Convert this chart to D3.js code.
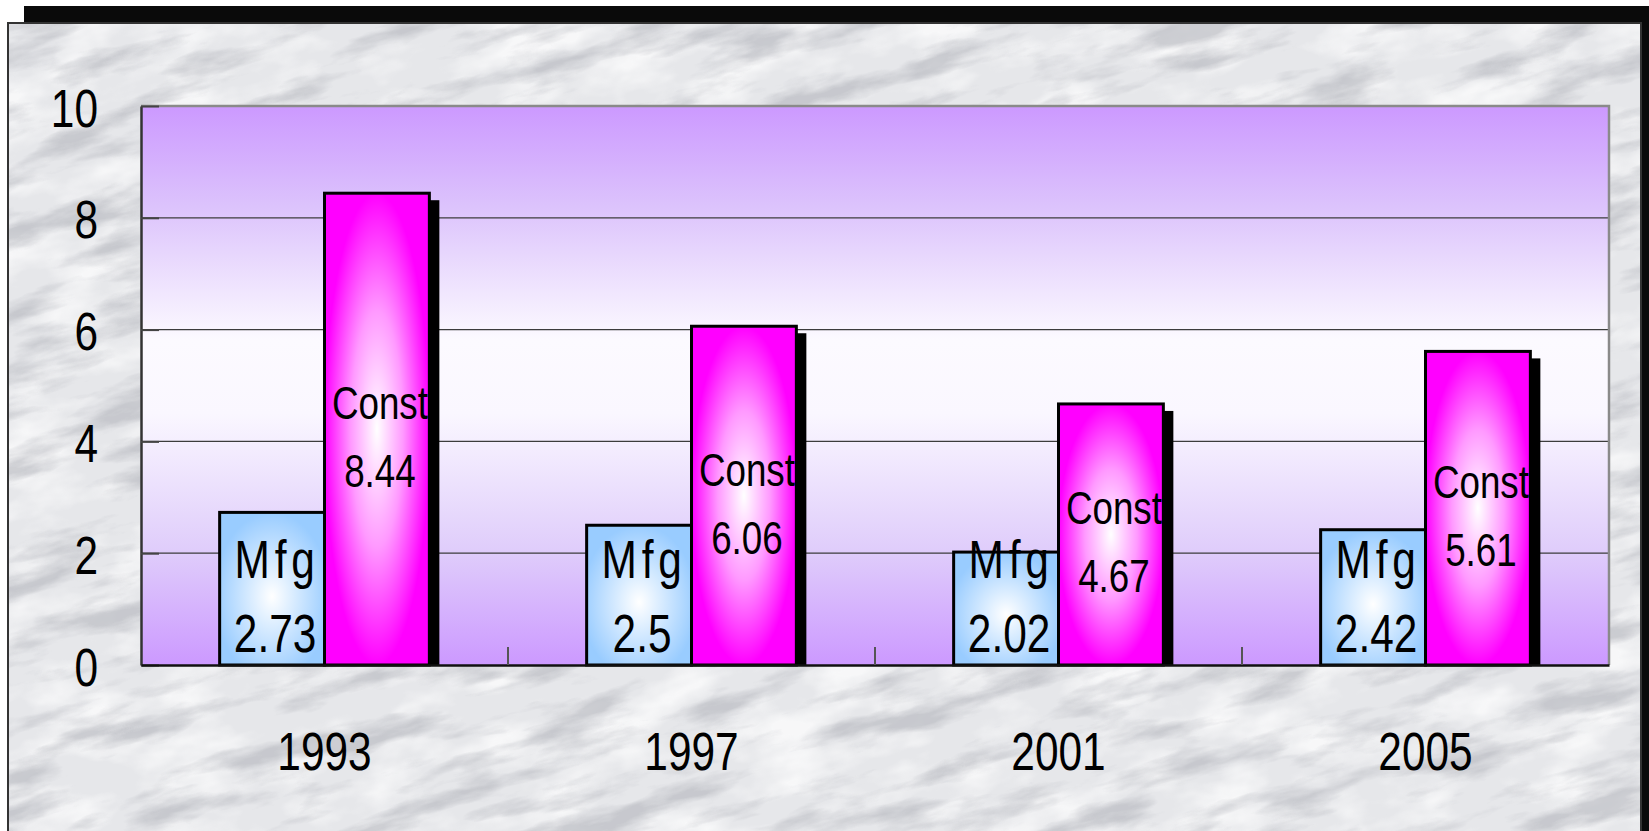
<!DOCTYPE html>
<html>
<head>
<meta charset="utf-8">
<script src="https://cdn.jsdelivr.net/npm/d3@7"></script>
<style>
  body { margin: 0; background: #fff; }
  svg { display: block; }
  text { font-family: "Liberation Sans", Arial, sans-serif; fill: #000; }
</style>
</head>
<body>
<div id="chart"></div>
<script>
// data
var years = ["1993", "1997", "2001", "2005"];
var seriesNames = ["Mfg", "Const"];
var mfgValues = [2.73, 2.5, 2.02, 2.42];
var constValues = [8.44, 6.06, 4.67, 5.61];
var yTicks = [0, 2, 4, 6, 8, 10];

var W = 1649, H = 831;
var plot = {left: 141, top: 106, right: 1609, bottom: 665};

var svg = d3.select("#chart").append("svg")
    .attr("width", W)
    .attr("height", H);

var defs = svg.append("defs");

// marble texture
var f1 = defs.append("filter").attr("id", "marbleDark")
    .attr("x", 0).attr("y", 0).attr("width", 1).attr("height", 1);
f1.append("feTurbulence").attr("type", "fractalNoise")
    .attr("baseFrequency", "0.009 0.035").attr("numOctaves", 5).attr("seed", 11);
f1.append("feColorMatrix").attr("type", "matrix")
    .attr("values", "0 0 0 0 0.45  0 0 0 0 0.46  0 0 0 0 0.5  3.6 0 0 0 -1.75");

var f2 = defs.append("filter").attr("id", "marbleLight")
    .attr("x", 0).attr("y", 0).attr("width", 1).attr("height", 1);
f2.append("feTurbulence").attr("type", "fractalNoise")
    .attr("baseFrequency", "0.012 0.025").attr("numOctaves", 4).attr("seed", 3);
f2.append("feColorMatrix").attr("type", "matrix")
    .attr("values", "0 0 0 0 1  0 0 0 0 1  0 0 0 0 1  3 0 0 0 -1.3");

defs.append("clipPath").attr("id", "panelClip")
  .append("rect")
    .attr("x", 9).attr("y", 24)
    .attr("width", 1631).attr("height", H - 24);

// plot area fill
var bg = defs.append("linearGradient").attr("id", "plotBg")
    .attr("x1", 0).attr("y1", 0).attr("x2", 0).attr("y2", 1);
[[0, "#cc99ff"], [0.18, "#dcc3fc"], [0.42, "#fcfaff"], [0.55, "#faf7ff"], [0.8, "#dfccfb"], [1, "#cc99ff"]]
  .forEach(function(s) { bg.append("stop").attr("offset", s[0]).attr("stop-color", s[1]); });

// bar fills
var gMfg = defs.append("radialGradient").attr("id", "fillMfg")
    .attr("cx", 0.5).attr("cy", 0.55).attr("r", 0.55);
gMfg.append("stop").attr("offset", 0).attr("stop-color", "#ffffff");
gMfg.append("stop").attr("offset", 1).attr("stop-color", "#99ccff");

var gConst = defs.append("radialGradient").attr("id", "fillConst")
    .attr("cx", 0.5).attr("cy", 0.5).attr("r", 0.5);
gConst.append("stop").attr("offset", 0).attr("stop-color", "#ffffff");
gConst.append("stop").attr("offset", 0.5).attr("stop-color", "#ff99ff");
gConst.append("stop").attr("offset", 1).attr("stop-color", "#ff00ff");

var fills = {Mfg: "url(#fillMfg)", Const: "url(#fillConst)"};

// outer frame with black offset shadow
svg.append("rect")
    .attr("x", 24).attr("y", 6)
    .attr("width", W - 24).attr("height", H - 6)
    .attr("fill", "#0a0a0a");

svg.append("rect")
    .attr("x", 8).attr("y", 23)
    .attr("width", 1633).attr("height", H)
    .attr("fill", "#e6e7ea")
    .attr("stroke", "#333").attr("stroke-width", 2);

var tex = svg.append("g").attr("clip-path", "url(#panelClip)")
  .append("g").attr("transform", "rotate(-14," + W / 2 + "," + H / 2 + ")");
tex.append("rect")
    .attr("x", -300).attr("y", -400)
    .attr("width", W + 600).attr("height", H + 800)
    .attr("filter", "url(#marbleLight)").attr("opacity", 0.7);
tex.append("rect")
    .attr("x", -300).attr("y", -400)
    .attr("width", W + 600).attr("height", H + 800)
    .attr("filter", "url(#marbleDark)").attr("opacity", 0.6);

// scales
var x0 = d3.scaleBand().domain(years).range([plot.left, plot.right]).padding(0);
var x1 = d3.scaleBand().domain(seriesNames).range([0, x0.bandwidth()])
    .paddingInner(0).paddingOuter(0.75);
var y = d3.scaleLinear().domain([0, 10]).range([plot.bottom, plot.top]);

// plot background
svg.append("rect")
    .attr("x", plot.left).attr("y", plot.top)
    .attr("width", plot.right - plot.left).attr("height", plot.bottom - plot.top)
    .attr("fill", "url(#plotBg)");

// gridlines
svg.append("g").selectAll("line")
    .data(yTicks.filter(function(d) { return d > 0 && d < 10; }))
    .enter().append("line")
    .attr("x1", plot.left).attr("x2", plot.right)
    .attr("y1", function(d) { return y(d); })
    .attr("y2", function(d) { return y(d); })
    .attr("stroke", "#3c3c3c").attr("stroke-width", 1.2);

// top and right border of the plot
svg.append("path")
    .attr("d", "M" + plot.left + "," + y(10) + "H" + plot.right + "V" + y(0))
    .attr("fill", "none").attr("stroke", "#8a8a8a").attr("stroke-width", 2.5);

// bars
var groups = svg.append("g").selectAll("g")
    .data(years)
    .enter().append("g")
    .attr("transform", function(d) { return "translate(" + x0(d) + ",0)"; });

var series = [
  {name: "Mfg", values: mfgValues},
  {name: "Const", values: constValues}
];

groups.each(function(yr, i) {
  var g = d3.select(this);
  series.forEach(function(s) {
    var v = s.values[i];
    var bx = x1(s.name), bw = x1.bandwidth();
    g.append("rect")
        .attr("x", bx + 10).attr("y", y(v) + 7)
        .attr("width", bw).attr("height", y(0) - y(v) - 7)
        .attr("fill", "#000");
    g.append("rect")
        .attr("x", bx).attr("y", y(v))
        .attr("width", bw).attr("height", y(0) - y(v))
        .attr("fill", fills[s.name])
        .attr("stroke", "#000").attr("stroke-width", 3);
  });
});

// data labels: Mfg sits at the bar base, Const is centred in the bar
function label(g, t, cx, base, size, spacing) {
  g.append("text")
      .attr("text-anchor", "middle")
      .attr("font-size", size)
      .attr("letter-spacing", spacing)
      .attr("transform", "translate(" + cx + "," + base + ") scale(0.8,1)")
      .text(t);
}

groups.each(function(yr, i) {
  var g = d3.select(this);
  var cxM = x1("Mfg") + x1.bandwidth() / 2 + 3;
  label(g, "Mfg", cxM + 2, y(0) - 87, 53, 6);
  label(g, String(mfgValues[i]), cxM, y(0) - 13, 53, 0);

  var v = constValues[i];
  var cxC = x1("Const") + x1.bandwidth() / 2 + 3;
  var mid = (y(v) + y(0)) / 2 + 6;
  label(g, "Const", cxC, mid - 16, 46, 0);
  label(g, String(v), cxC, mid + 52, 46, 0);
});

// y axis
var yAxis = d3.axisLeft(y).tickValues(yTicks).tickSizeInner(-18).tickSizeOuter(0)
    .tickPadding(43).tickFormat(d3.format("d"));
var gy = svg.append("g")
    .attr("transform", "translate(" + plot.left + ",0)")
    .call(yAxis);
gy.select(".domain").attr("stroke", "#333").attr("stroke-width", 2.5);
gy.selectAll(".tick line").attr("stroke", "#444").attr("stroke-width", 2);
gy.selectAll(".tick text")
    .attr("font-size", 53)
    .attr("font-family", "Liberation Sans, Arial, sans-serif")
    .attr("fill", "#000")
    .attr("dy", null)
    .attr("transform", function() {
      return "translate(" + this.getAttribute("x") + ",20) scale(0.8,1)";
    })
    .attr("x", 0);

// x axis
var xAxis = d3.axisBottom(x0).tickSize(0).tickPadding(67);
var gx = svg.append("g")
    .attr("transform", "translate(0," + plot.bottom + ")")
    .call(xAxis);
gx.select(".domain").attr("stroke", "#111").attr("stroke-width", 2.5);
gx.selectAll(".tick text")
    .attr("font-size", 53)
    .attr("font-family", "Liberation Sans, Arial, sans-serif")
    .attr("fill", "#000")
    .attr("transform", "scale(0.8,1)");

// category boundary ticks
svg.append("g").selectAll("line")
    .data(years.slice(1))
    .enter().append("line")
    .attr("x1", function(d) { return x0(d); })
    .attr("x2", function(d) { return x0(d); })
    .attr("y1", plot.bottom - 18).attr("y2", plot.bottom)
    .attr("stroke", "#555").attr("stroke-width", 2);
</script>
</body>
</html>
